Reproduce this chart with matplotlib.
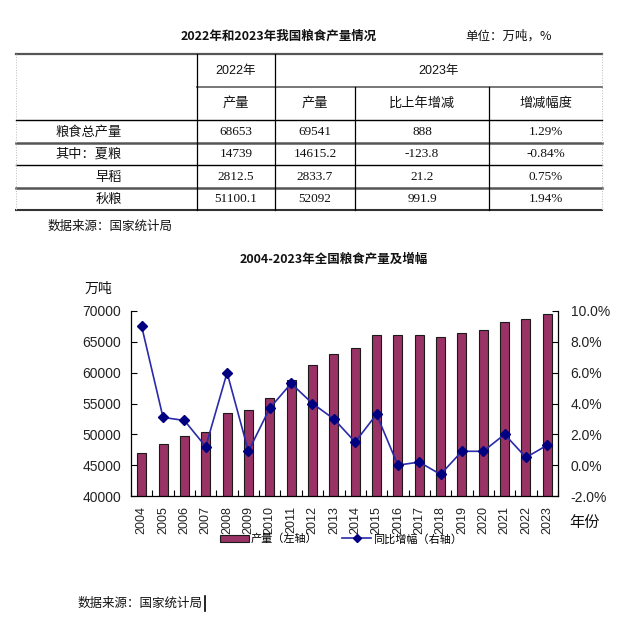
import matplotlib
matplotlib.use("Agg")
import matplotlib.pyplot as plt
from matplotlib.lines import Line2D
from matplotlib.patches import Patch
import numpy as np

plt.rcParams['font.family'] = ['Liberation Sans', 'Noto Sans CJK SC', 'DejaVu Sans']

# ---------------- data ----------------
table_title = "2022年和2023年我国粮食产量情况"
table_unit = "单位：万吨，%"
row_labels = ["粮食总产量", "其中：夏粮", "早稻", "秋粮"]
prod_2022 = ["68653", "14739", "2812.5", "51100.1"]
prod_2023 = ["69541", "14615.2", "2833.7", "52092"]
change = ["888", "-123.8", "21.2", "991.9"]
change_pct = ["1.29%", "-0.84%", "0.75%", "1.94%"]
source = "数据来源：国家统计局"

years = [str(y) for y in range(2004, 2024)]
output = [46947, 48402, 49804, 50414, 53434, 53941, 55911, 58849, 61223, 63048,
          63965, 66060, 66044, 66161, 65789, 66384, 66949, 68285, 68653, 69541]
growth = [9.0, 3.1, 2.9, 1.2, 6.0, 0.9, 3.7, 5.3, 4.0, 3.0,
          1.5, 3.3, 0.0, 0.2, -0.6, 0.9, 0.9, 2.0, 0.5, 1.3]
left_ticks = [40000, 45000, 50000, 55000, 60000, 65000, 70000]
right_ticks = [-2, 0, 2, 4, 6, 8, 10]

W, H = 640, 618
fig = plt.figure(figsize=(W / 100, H / 100), dpi=100, facecolor='white')

def fx(x):
    return x / W

def fy(y):
    return 1 - y / H

def hline(y, x0, x1, lw=0.8, color='black', ls='-'):
    fig.add_artist(Line2D([fx(x0), fx(x1)], [fy(y), fy(y)], transform=fig.transFigure,
                          lw=lw, color=color, ls=ls))

def vline(x, y0, y1, lw=0.8, color='black', ls='-'):
    fig.add_artist(Line2D([fx(x), fx(x)], [fy(y0), fy(y1)], transform=fig.transFigure,
                          lw=lw, color=color, ls=ls))

def txt(x, y, s, ha='center', size=9, family=None, weight='normal', color='#111111'):
    kw = {}
    if family is not None:
        kw['family'] = family
    fig.text(fx(x), fy(y), s, ha=ha, va='center', fontsize=size, weight=weight,
             color=color, **kw)

cjk = ['Noto Sans CJK SC', 'DejaVu Sans']
serif = ['Liberation Serif', 'Noto Sans CJK SC']

# ---------------- table ----------------
txt(279, 36, table_title, size=9, family=cjk, weight='bold')
txt(465, 36, table_unit, ha='left', size=9, family=cjk)

L, C1, C2, C3, C4, R = 16, 197, 275, 355, 489, 602
hline(54, L, R, lw=1.6, color='#555555')
hline(87, C1, R, lw=1.4, color='#777777')
hline(120, L, R, lw=1.0, color='black')
hline(143, L, R, lw=1.8, color='#555555')
hline(165, L, R, lw=1.0, color='black')
hline(188, L, R, lw=1.8, color='#555555')
hline(210, L, R, lw=1.5, color='#333333')
vline(C1, 54, 210, lw=0.9)
vline(C2, 54, 210, lw=0.9)
vline(C3, 87, 210, lw=0.9)
vline(C4, 87, 210, lw=0.9)
vline(L, 54, 210, lw=0.7, color='#bbbbbb', ls=':')
vline(R, 54, 210, lw=0.7, color='#bbbbbb', ls=':')

cx = [(C1 + C2) / 2, (C2 + C3) / 2, (C3 + C4) / 2, (C4 + R) / 2]
txt(cx[0], 71, "2022年", size=9)
txt((C2 + R) / 2, 71, "2023年", size=9)
for c, s in zip(cx, ["产量", "产量", "比上年增减", "增减幅度"]):
    txt(c, 103, s, size=9.5, family=cjk)
row_y = [132, 154, 177, 199]
for i, y in enumerate(row_y):
    txt(122, y, row_labels[i], ha='right', size=9.5, family=cjk)
    for c, col in zip(cx, [prod_2022, prod_2023, change, change_pct]):
        txt(c, y, col[i], size=9.5, family=serif)
txt(48, 226, source, ha='left', size=9, family=cjk)

# ---------------- chart ----------------
ax_l, ax_r, ax_t, ax_b = 131, 558, 311, 496
ax = fig.add_axes([fx(ax_l), fy(ax_b), (ax_r - ax_l) / W, (ax_b - ax_t) / H])
x = np.arange(len(years))
ax.bar(x, output, width=0.42, color='#993366', edgecolor='#1a1a1a', linewidth=0.8,
       zorder=2)
ax.set_ylim(40000, 70000)
ax.set_xlim(-0.5, len(years) - 0.5)
ax.set_yticks(left_ticks)
ax.set_yticklabels([str(v) for v in left_ticks])
ax.set_xticks(x)
ax.set_xticklabels(years, rotation=90, fontsize=9, color='#222222')
ax.set_xticks(np.arange(-0.5, len(years), 1), minor=True)
ax.tick_params(axis='x', which='major', length=0, pad=7)
ax.tick_params(axis='x', which='minor', direction='in', length=4, width=0.8)
ax.tick_params(axis='y', direction='in', length=4, width=0.8, labelsize=10,
               pad=7, labelcolor='#222222')
for s in ['top']:
    ax.spines[s].set_visible(False)
ax.spines['right'].set_visible(False)
for s in ['left', 'bottom']:
    ax.spines[s].set_linewidth(0.9)

ax2 = ax.twinx()
ax2.plot(x, growth, color='#2a2aaa', lw=1.2, marker='D', markersize=5,
         markerfacecolor='#000080', markeredgecolor='#000080', zorder=3)
ax2.set_ylim(-2, 10)
ax2.set_yticks(right_ticks)
ax2.set_yticklabels([f"{v:.1f}%" for v in right_ticks])
ax2.tick_params(axis='y', direction='in', length=4, width=0.8, labelsize=10,
                pad=9, labelcolor='#222222')
ax2.spines['top'].set_visible(False)
ax2.spines['left'].set_visible(False)
ax2.spines['bottom'].set_visible(False)
ax2.spines['right'].set_linewidth(0.9)

txt(334, 259, "2004-2023年全国粮食产量及增幅", size=9, family=cjk, weight='bold')
txt(85, 289, "万吨", ha='left', size=10, family=cjk)
txt(569, 522, "年份", ha='left', size=11, family=cjk)

handles = [Patch(facecolor='#993366', edgecolor='#1a1a1a', linewidth=0.8),
           Line2D([], [], color='#2a2aaa', lw=1.2, marker='D', markersize=4,
                  markerfacecolor='#000080', markeredgecolor='#000080')]
fig.legend(handles, ["产量（左轴）", "同比增幅（右轴）"], loc='center',
           bbox_to_anchor=(fx(341), fy(539)), ncol=2, frameon=False, fontsize=8,
           handlelength=2.6, handletextpad=0.15, columnspacing=2.2,
           borderpad=0, borderaxespad=0, prop={'family': cjk, 'size': 8})

txt(78, 603, source, ha='left', size=9, family=cjk)
vline(205, 596, 611, lw=1.2, color='black')

fig.savefig("out.png", dpi=100, facecolor='white')
